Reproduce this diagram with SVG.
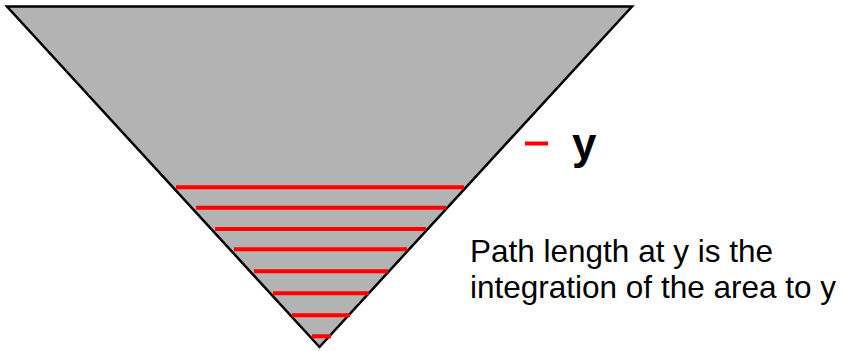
<svg xmlns="http://www.w3.org/2000/svg" width="844" height="351" viewBox="0 0 844 351">
<style>
.red{stroke:#ff0000;stroke-width:4;fill:none}
.lbl{font-family:"Liberation Sans",Arial,sans-serif;fill:#000}
</style>
<rect width="844" height="351" fill="#fff"/>
<g id="triangle">
<polygon points="7,6.5 632,6.5 319.5,347" fill="#b3b3b3" stroke="#000" stroke-width="2.5" stroke-linejoin="miter"/>
</g>
<g id="levels">
<line class="red" x1="176" y1="187.3" x2="464" y2="187.3"/>
<line class="red" x1="196" y1="207.7" x2="446" y2="207.7"/>
<line class="red" x1="215" y1="229" x2="426" y2="229"/>
<line class="red" x1="234" y1="249.3" x2="407" y2="249.3"/>
<line class="red" x1="254" y1="271.3" x2="388" y2="271.3"/>
<line class="red" x1="273" y1="293.3" x2="369" y2="293.3"/>
<line class="red" x1="292" y1="315.3" x2="350" y2="315.3"/>
<line class="red" x1="312" y1="336.3" x2="331" y2="336.3"/>
</g>
<g id="legend">
<line class="red" x1="525" y1="143.5" x2="548" y2="143.5"/>
<text class="lbl" x="572" y="159" font-size="44" font-weight="bold">y</text>
</g>
<g id="caption">
<text class="lbl" x="470" y="261.5" font-size="31.5">Path length at y is the</text>
<text class="lbl" x="470" y="297.5" font-size="31.5">integration of the area to y</text>
</g>
</svg>
